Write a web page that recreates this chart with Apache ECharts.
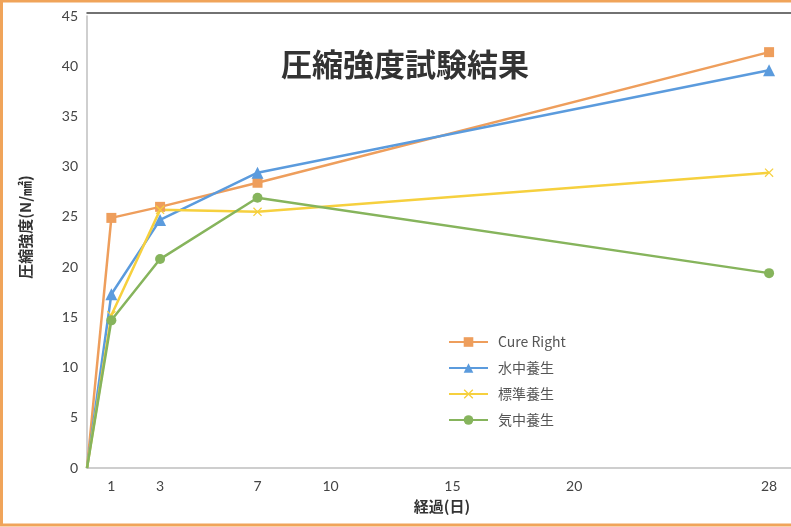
<!DOCTYPE html>
<html>
<head>
<meta charset="utf-8">
<script src="https://cdn.jsdelivr.net/npm/echarts@6/dist/echarts.min.js"></script>
<style>
html,body{margin:0;padding:0;background:#fff;}
#chart{width:791px;height:527px;}
</style>
</head>
<body>
<div id="chart"></div>
<script>
const days = [0, 1, 3, 7, 28];
const xTickLabels = [1, 3, 7, 10, 15, 20, 28];
const seriesNames = ['Cure Right', '水中養生', '標準養生', '気中養生'];
const cureRight = [0, 24.9, 26.0, 28.4, 41.4];
const suichu = [0, 17.3, 24.7, 29.4, 39.6];
const hyojun = [0, 15.2, 25.7, 25.5, 29.4];
const kichu = [0, 14.7, 20.8, 26.9, 19.4];

const colors = ['#EE9E5C', '#5B9BDD', '#F6D03E', '#86B45C'];
const xPath = 'path://M1,0L5,4L9,0L10,1L6,5L10,9L9,10L5,6L1,10L0,9L4,5L0,1Z';
const symbols = ['rect', 'triangle', xPath, 'circle'];
const symbolSizes = [10, 12, 9, 10];
const values = [cureRight, suichu, hyojun, kichu];

const jp = '"Noto Sans CJK JP", "Noto Sans", sans-serif';
const num = 'Lato, "Noto Sans CJK JP", sans-serif';

function makeData(vals) {
  return days.map((d, i) => i === 0 ? { value: [d, vals[i]], symbol: 'none' } : [d, vals[i]]);
}

const chart = echarts.init(document.getElementById('chart'));
chart.setOption({
  backgroundColor: '#fff',
  animation: false,
  title: {
    text: '圧縮強度試験結果',
    left: 276,
    top: 44,
    textStyle: { fontFamily: jp, fontSize: 31, fontWeight: 'bold', color: '#333' }
  },
  legend: {
    orient: 'vertical',
    left: 443,
    top: 330,
    itemWidth: 39,
    itemHeight: 12,
    itemGap: 12,
    data: seriesNames,
    textStyle: { fontFamily: jp, fontSize: 14, color: '#555', padding: [0, 0, 0, 5] }
  },
  grid: { left: 87, right: 0, top: 16, bottom: 59, containLabel: false },
  xAxis: [{
    type: 'value',
    min: 0,
    max: 28.9,
    interval: 1,
    name: '経過(日)',
    nameLocation: 'middle',
    nameGap: 31,
    nameTextStyle: { fontFamily: jp, fontSize: 15, fontWeight: 'bold', color: '#333', padding: [0, 0, 0, 6] },
    axisLine: { show: true, lineStyle: { color: '#BFBFBF', width: 1.5 } },
    axisTick: { show: false },
    splitLine: { show: false },
    axisLabel: {
      margin: 11,
      fontFamily: num,
      fontSize: 14,
      color: '#444',
      showMaxLabel: false,
      formatter: v => xTickLabels.indexOf(Math.round(v * 10) / 10) >= 0 ? String(v) : ''
    }
  }, {
    type: 'value',
    position: 'top',
    min: 0,
    max: 28.9,
    offset: 3,
    axisLine: { show: true, onZero: false, lineStyle: { color: '#444', width: 1.5 } },
    axisTick: { show: false },
    axisLabel: { show: false },
    splitLine: { show: false }
  }],
  yAxis: {
    type: 'value',
    min: 0,
    max: 45,
    interval: 5,
    name: '圧縮強度(N/㎟)',
    nameLocation: 'middle',
    nameGap: 54,
    nameTextStyle: { fontFamily: jp, fontSize: 15, fontWeight: 'bold', color: '#333', padding: [0, 0, 0, 30] },
    axisLine: { show: true, lineStyle: { color: '#BFBFBF', width: 1.5 } },
    axisTick: { show: false },
    splitLine: { show: false },
    axisLabel: { margin: 9, fontFamily: num, fontSize: 14, color: '#444' }
  },
  graphic: [{
    type: 'rect',
    silent: true,
    z: 100,
    shape: { x: 1.5, y: 1, width: 800, height: 524 },
    style: { fill: 'none', stroke: '#F0A45A', lineWidth: 3 }
  }],
  series: seriesNames.map((name, i) => ({
    name: name,
    type: 'line',
    xAxisIndex: 0,
    data: makeData(values[i]),
    symbol: symbols[i],
    symbolSize: symbolSizes[i],
    showAllSymbol: true,
    lineStyle: { color: colors[i], width: 2.5 },
    itemStyle: { color: colors[i], borderWidth: 0 }
  }))
});
</script>
</body>
</html>
